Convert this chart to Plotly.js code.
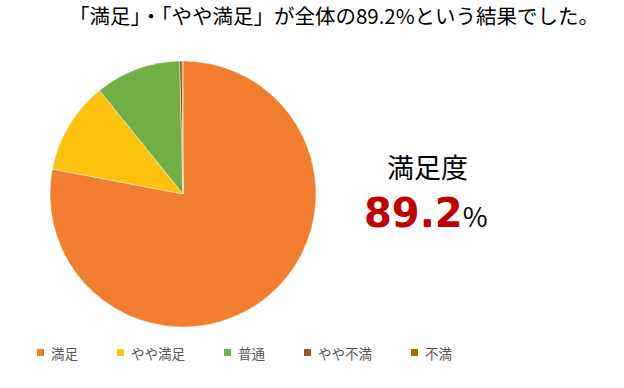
<!DOCTYPE html>
<html>
<head>
<meta charset="utf-8">
<script src="https://cdn.plot.ly/plotly-3.0.1.min.js"></script>
<style>html,body{margin:0;padding:0;background:#fff;}#chart{width:624px;height:388px;}</style>
</head>
<body>
<div id="chart"></div>
<script>
const categories = ["満足", "やや満足", "普通", "やや不満", "不満"];
const shares = [78.0, 11.2, 10.4, 0.3, 0.1];
const sliceColors = ["#F07E2E", "#FDC20F", "#71AF46", "#A0501A", "#997300"];
const titleText = "「満足」・「やや満足」が全体の89.2%という結果でした。";
const summaryLabel = "満足度";
const summaryValue = "89.2";

const FONT = "'Noto Sans CJK JP', 'Noto Sans', sans-serif";
const W = 624, H = 388;

const trace = {
  type: "pie",
  labels: categories,
  values: shares,
  sort: false,
  direction: "clockwise",
  rotation: 0,
  textinfo: "none",
  hoverinfo: "label+percent",
  showlegend: false,
  marker: { colors: sliceColors, line: { color: "#ffffff", width: 0.4 } },
  domain: { x: [50 / W, 316 / W], y: [61 / H, 327 / H] }
};

// Legend drawn as boxes + text, spaced by label length
const LEG_FONT = 13.5;
const legShapes = [], legAnn = [];
let lx = 37;
categories.forEach((c, i) => {
  legShapes.push({
    type: "rect", xref: "paper", yref: "paper",
    x0: lx / W, x1: (lx + 7) / W, y0: 1 - 356 / H, y1: 1 - 349 / H,
    fillcolor: sliceColors[i], line: { width: 0 }
  });
  legAnn.push({
    text: c, x: (lx + 12) / W, y: 1 - 352.5 / H, xref: "paper", yref: "paper",
    xanchor: "left", yanchor: "middle", showarrow: false,
    font: { family: FONT, size: LEG_FONT, color: "#595959" }
  });
  lx += 12 + c.length * 13.5 + 41;
});

const layout = {
  width: W, height: H,
  margin: { l: 0, r: 0, t: 0, b: 0 },
  paper_bgcolor: "#ffffff",
  font: { family: FONT, color: "#000000" },
  title: {
    text: titleText,
    font: { family: FONT, size: 20.5, color: "#000000" },
    x: 334 / W, xanchor: "center", xref: "paper",
    y: 1 - 17 / H, yanchor: "middle", yref: "container"
  },
  showlegend: false,
  shapes: legShapes,
  annotations: legAnn.concat([
    {
      text: summaryLabel,
      x: 427 / W, y: 1 - 166 / H, xref: "paper", yref: "paper",
      xanchor: "center", yanchor: "middle", showarrow: false,
      font: { family: FONT, size: 27, color: "#000000" }
    },
    {
      text: "<b><span style=\"color:#C00000;font-size:40px;font-family:'DejaVu Sans'\">" + summaryValue + "</span></b><span style='font-size:27px'>%</span>",
      x: 426 / W, y: 1 - 213 / H, xref: "paper", yref: "paper",
      xanchor: "center", yanchor: "middle", showarrow: false,
      font: { family: FONT, size: 27, color: "#000000" }
    }
  ])
};

Plotly.newPlot("chart", [trace], layout, { displayModeBar: false, staticPlot: true });
</script>
</body>
</html>
